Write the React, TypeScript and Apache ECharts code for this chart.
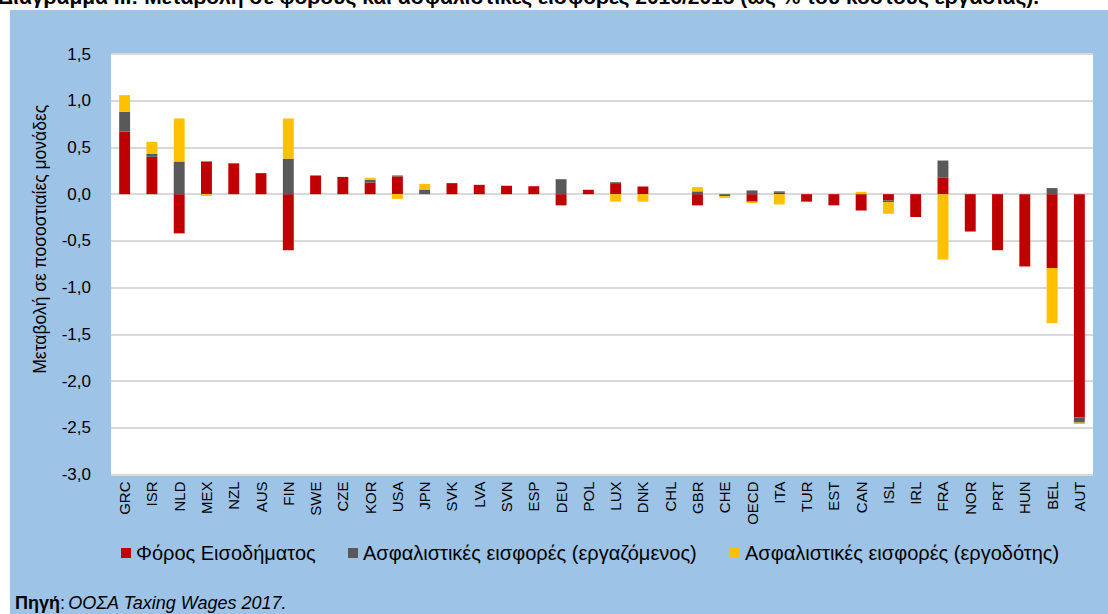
import React, { useEffect, useRef } from "react";
import * as echarts from "echarts";

const categories = ["GRC","ISR","NLD","MEX","NZL","AUS","FIN","SWE","CZE","KOR","USA","JPN","SVK","LVA","SVN","ESP","DEU","POL","LUX","DNK","CHL","GBR","CHE","OECD","ITA","TUR","EST","CAN","ISL","IRL","FRA","NOR","PRT","HUN","BEL","AUT"];

const incomeTax = [0.67,0.40,-0.42,0.35,0.33,0.225,-0.60,0.20,0.185,0.125,0.19,0,0.118,0.10,0.09,0.085,-0.12,0.047,0.118,0.082,0,-0.12,0,-0.08,0.015,-0.08,-0.12,-0.175,-0.065,-0.245,0.18,-0.40,-0.60,-0.775,-0.79,-2.39];
const employeeSSC = [0.21,0.03,0.35,0,0,0,0.38,0,0,0.03,0.01,0.05,0,0,0,0,0.16,0,0.01,0,0,0.03,-0.02,0.04,0.015,0,0,0,-0.02,0,0.18,0,0,0,0.065,-0.055];
const employerSSC = [0.18,0.13,0.46,-0.02,0,0,0.43,0,0,0.02,-0.05,0.06,0,0,0,0,0,0,-0.08,-0.08,0,0.045,-0.02,-0.015,-0.11,0,0,0.025,-0.125,0,-0.70,0,0,0,-0.59,-0.015];

const seriesNames = ["Φόρος Εισοδήματος", "Ασφαλιστικές εισφορές (εργαζόμενος)", "Ασφαλιστικές εισφορές (εργοδότης)"];
const seriesColors = ["#C00000", "#595959", "#FFC000"];

const titleText = "Διάγραμμα ΙΙΙ: Μεταβολή σε φόρους και ασφαλιστικές εισφορές 2016/2015 (ως % του κόστους εργασίας).";
const yAxisName = "Μεταβολή σε ποσοστιαίες μονάδες";

const FONT = "'Liberation Sans', Arial, sans-serif";

export default function App() {
  const ref = useRef<HTMLDivElement>(null);
  useEffect(() => {
    if (!ref.current) return;
    const chart = echarts.init(ref.current, undefined, { renderer: "svg" });
    const values = [incomeTax, employeeSSC, employerSSC];
    const legendLefts = [121, 348, 730];
    chart.setOption({
      animation: false,
      backgroundColor: "#9DC3E6",
      textStyle: { fontFamily: FONT },
      grid: {
        left: 111, right: 15, top: 54, bottom: 139.5,
        show: true, backgroundColor: "#ffffff", borderWidth: 0,
      },
      legend: seriesNames.map((n, i) => ({
        data: [n],
        left: legendLefts[i],
        top: 543,
        padding: 0,
        icon: "rect",
        itemWidth: 10,
        itemHeight: 10,
        itemGap: 5,
        textStyle: { fontFamily: FONT, fontSize: 20, color: "#000" },
      })),
      xAxis: {
        type: "category",
        data: categories,
        axisLine: { show: false },
        axisTick: { show: false },
        axisLabel: { rotate: 90, fontSize: 15, color: "#000", margin: 7, interval: 0, fontFamily: FONT },
      },
      yAxis: {
        type: "value",
        min: -3,
        max: 1.5,
        interval: 0.5,
        name: yAxisName,
        nameLocation: "middle",
        nameGap: 62,
        nameTextStyle: { fontSize: 17.5, color: "#000", fontFamily: FONT, padding: [0, 0, 0, 50] },
        axisLine: { show: false },
        axisTick: { show: false },
        axisLabel: {
          fontSize: 17, color: "#000", margin: 20, fontFamily: FONT,
          formatter: (v: number) => v.toFixed(1).replace(".", ","),
        },
        splitLine: { lineStyle: { color: "#D9D9D9", width: 2 } },
      },
      series: seriesNames.map((n, i) => ({
        name: n,
        type: "bar",
        stack: "total",
        data: values[i],
        barCategoryGap: "60%",
        itemStyle: { color: seriesColors[i] },
      })),
      graphic: [
        { type: "rect", shape: { x: 0, y: 0, width: 1108, height: 10 }, style: { fill: "#ffffff" }, silent: true },
        { type: "rect", shape: { x: 0, y: 0, width: 10, height: 614 }, style: { fill: "#ffffff" }, silent: true },
        {
          type: "text", x: -2, y: -4,
          style: { text: titleText, font: `bold 21px ${FONT}`, fill: "#000", verticalAlign: "middle", align: "left" },
        },
        {
          type: "text", x: 15, y: 603,
          style: {
            text: "{b|Πηγή}{n|:} {i|ΟΟΣΑ Taxing Wages 2017.}",
            verticalAlign: "middle",
            rich: {
              b: { fontWeight: "bold", fontSize: 18, fontFamily: FONT, fill: "#000" },
              n: { fontSize: 18, fontFamily: FONT, fill: "#000" },
              i: { fontStyle: "italic", fontSize: 18, fontFamily: FONT, fill: "#000" },
            },
          },
        },
      ],
    });
    return () => chart.dispose();
  }, []);
  return <div ref={ref} style={{ position: "absolute", left: 0, top: 0, width: 1108, height: 614 }} />;
}
